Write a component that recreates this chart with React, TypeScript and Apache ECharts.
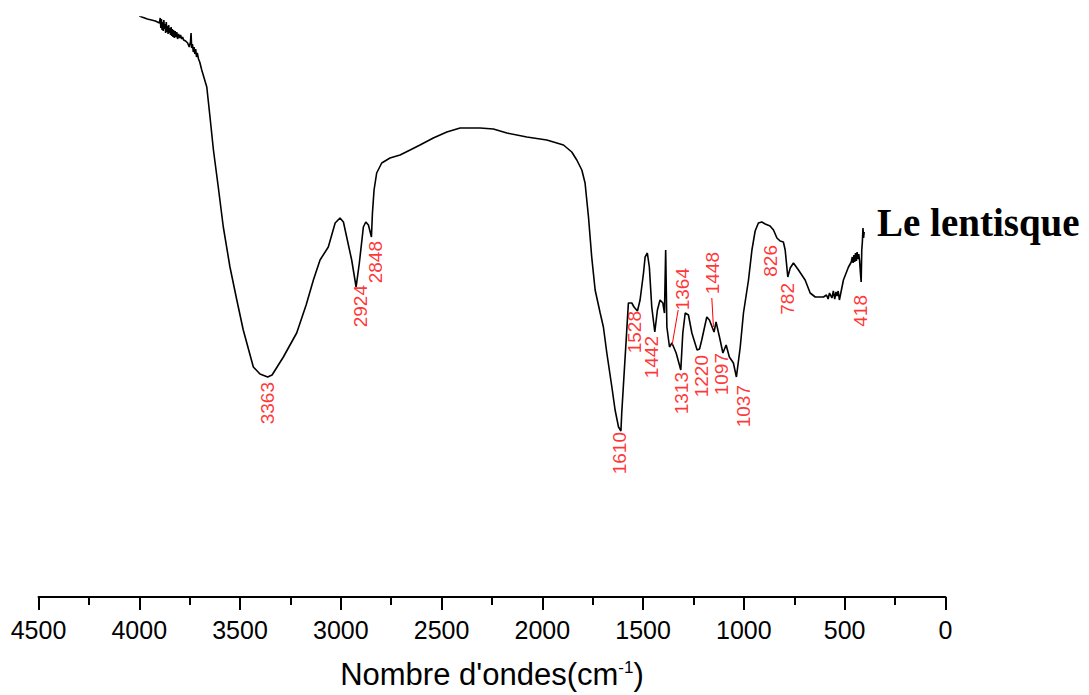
import React, { useEffect, useRef } from 'react';
import * as echarts from 'echarts';

// Spectrum (wavenumber in cm-1, transmittance in arbitrary units)
const wavenumbers = [4000, 3960, 3920, 3900, 3896, 3893, 3890, 3887, 3884, 3881, 3878, 3875, 3872, 3869, 3866, 3863, 3860, 3857, 3854, 3851, 3848, 3845, 3842, 3839, 3836, 3833, 3830, 3826, 3822, 3818, 3814, 3810, 3805, 3800, 3795, 3790, 3785, 3780, 3770, 3760, 3752, 3746, 3743, 3740, 3736, 3732, 3728, 3724, 3720, 3716, 3712, 3706, 3700, 3690, 3665, 3649, 3632, 3608, 3583, 3550, 3516, 3484, 3434, 3401, 3363, 3341, 3285, 3219, 3172, 3136, 3103, 3062, 3028, 3004, 2987, 2946, 2924, 2908, 2888, 2876, 2863, 2848, 2843, 2835, 2822, 2797, 2756, 2706, 2656, 2607, 2541, 2474, 2408, 2309, 2243, 2176, 2077, 1978, 1895, 1854, 1829, 1804, 1788, 1771, 1755, 1738, 1713, 1697, 1680, 1655, 1639, 1622, 1610, 1606, 1594, 1584, 1573, 1556, 1545, 1528, 1515, 1498, 1490, 1479, 1469, 1457, 1442, 1429, 1416, 1402, 1394, 1388, 1382, 1369, 1357, 1336, 1313, 1303, 1291, 1275, 1258, 1232, 1220, 1209, 1184, 1171, 1148, 1138, 1121, 1104, 1088, 1072, 1052, 1037, 1018, 1002, 977, 960, 944, 928, 911, 894, 870, 853, 836, 820, 804, 795, 782, 770, 754, 729, 696, 671, 646, 605, 590, 582, 575, 563, 556, 549, 543, 538, 532, 526, 506, 481, 467, 462, 458, 454, 450, 446, 442, 438, 434, 430, 426, 422, 418, 415, 412, 409, 406, 403];
const transmittance = [58.1, 57.8, 57.6, 57.4, 57.9, 56.9, 57.8, 56.7, 57.5, 56.6, 57.7, 56.8, 57.3, 56.4, 57.5, 56.5, 57.1, 56.3, 57.2, 56.4, 56.9, 56.2, 57.0, 56.1, 56.8, 56.0, 56.7, 55.9, 56.6, 56.0, 56.5, 55.8, 56.3, 55.9, 56.2, 55.8, 56.0, 55.7, 55.6, 55.4, 55.0, 55.5, 56.4, 54.9, 55.3, 54.5, 55.0, 54.3, 54.8, 54.0, 54.4, 53.8, 53.5, 52.7, 51.0, 48.0, 44.7, 41.0, 37.0, 33.0, 29.7, 26.7, 23.0, 22.3, 22.0, 22.2, 24.0, 26.4, 29.2, 31.7, 33.7, 35.0, 37.4, 37.9, 37.5, 33.7, 31.0, 33.4, 37.0, 37.5, 37.2, 36.0, 38.4, 40.7, 42.4, 43.4, 43.9, 44.2, 44.7, 45.2, 45.9, 46.5, 46.9, 46.9, 46.8, 46.4, 46.0, 45.7, 45.2, 44.5, 43.7, 42.7, 41.4, 38.0, 34.0, 30.7, 28.4, 27.0, 24.4, 21.0, 18.7, 17.0, 16.6, 18.4, 22.4, 25.7, 29.4, 29.4, 29.0, 28.6, 29.7, 32.4, 34.0, 34.4, 33.0, 29.0, 26.5, 28.7, 29.7, 29.4, 28.4, 34.7, 27.0, 25.0, 25.4, 24.4, 22.7, 26.4, 28.4, 28.2, 26.4, 24.7, 24.8, 25.7, 28.0, 27.7, 26.5, 27.5, 26.0, 24.4, 25.2, 24.0, 23.4, 22.0, 25.0, 28.4, 31.7, 34.7, 36.6, 37.4, 37.5, 37.3, 37.1, 36.7, 35.9, 35.6, 35.5, 34.7, 32.0, 32.9, 33.4, 32.7, 31.7, 30.4, 30.0, 30.0, 30.2, 29.8, 30.4, 29.9, 30.6, 29.8, 30.5, 30.1, 30.6, 29.7, 31.7, 33.0, 33.5, 34.0, 33.4, 34.2, 33.5, 34.4, 33.6, 34.5, 33.8, 34.3, 33.7, 32.5, 31.5, 34.7, 35.5, 36.9, 35.9, 36.5];

// Peak annotations (text, anchor wavenumber, anchor value = top of rotated text)
const peakLabels = ['3363', '2924', '2848', '1610', '1528', '1442', '1364', '1313', '1220', '1448', '1097', '1037', '826', '782', '418'];
const labelWavenumbers = [3363, 2904, 2830, 1619, 1544, 1460, 1306, 1308, 1212, 1155, 1113, 1004, 870, 783, 423];
const labelValues = [21.5, 31.2, 35.6, 16.5, 28.6, 26.1, 32.9, 22.5, 24.2, 34.5, 24.4, 21.2, 35.2, 31.4, 30.2];

// Leader lines for displaced labels
const leader1364 = [[1326, 28.7], [1356, 25.2]];
const leader1448 = [[1159, 29.9], [1151, 27.0]];

const xMin = 0;
const xMax = 4500;
const xInterval = 500;
const sampleName = 'Le lentisque';
const axisTitle = "{a|Nombre d'ondes(cm}{s|-1}{a|)}";

export default function App() {
  const ref = useRef<HTMLDivElement>(null);
  useEffect(() => {
    document.body.style.margin = '0';
    if (!ref.current) return;
    const chart = echarts.init(ref.current, null, { renderer: 'svg' });
    const lineData = wavenumbers.map((w, i) => [w, transmittance[i]]);
    const labelData = labelWavenumbers.map((w, i) => ({ value: [w, labelValues[i]], name: peakLabels[i] }));
    chart.setOption({
      animation: false,
      grid: { left: 38.5, right: 143.6, top: 17, bottom: 98, containLabel: false },
      xAxis: {
        type: 'value',
        inverse: true,
        min: xMin,
        max: xMax,
        interval: xInterval,
        axisLine: { onZero: false, lineStyle: { color: '#000', width: 2 } },
        axisTick: { length: 13, lineStyle: { color: '#000', width: 2 } },
        minorTick: { show: true, splitNumber: 2, length: 8, lineStyle: { color: '#000', width: 2 } },
        splitLine: { show: false },
        axisLabel: {
          color: '#000',
          fontSize: 25,
          fontFamily: 'Liberation Sans, Arial, sans-serif',
          margin: 20,
          formatter: (v: number) => String(v),
        },
        name: axisTitle,
        nameLocation: 'middle',
        nameGap: 62,
        nameTextStyle: {
          rich: {
            a: { fontSize: 31, color: '#000', fontFamily: 'Liberation Sans, Arial, sans-serif' },
            s: { fontSize: 17, color: '#000', fontFamily: 'Liberation Sans, Arial, sans-serif', verticalAlign: 'top' },
          },
        },
      },
      yAxis: { type: 'value', min: 0, max: 58, show: false },
      graphic: [
        {
          type: 'text',
          left: 877,
          top: 203,
          style: {
            text: sampleName,
            font: 'bold 39px "Liberation Serif", "Times New Roman", serif',
            fill: '#000',
          },
        },
      ],
      series: [
        {
          type: 'line',
          data: lineData,
          symbol: 'none',
          silent: true,
          lineStyle: { color: '#000', width: 1.6 },
          z: 3,
        },
        {
          type: 'scatter',
          data: labelData,
          symbolSize: 1,
          silent: true,
          itemStyle: { color: 'rgba(0,0,0,0)' },
          label: {
            show: true,
            formatter: '{b}',
            position: 'inside',
            rotate: 90,
            align: 'right',
            verticalAlign: 'middle',
            color: '#ff0000',
            fontSize: 19,
            fontFamily: 'Liberation Sans, Arial, sans-serif',
          },
          z: 4,
        },
        {
          type: 'line',
          data: leader1364,
          symbol: 'none',
          silent: true,
          lineStyle: { color: '#ff0000', width: 1 },
          z: 4,
        },
        {
          type: 'line',
          data: leader1448,
          symbol: 'none',
          silent: true,
          lineStyle: { color: '#ff0000', width: 1 },
          z: 4,
        },
      ],
    });
    return () => chart.dispose();
  }, []);
  return <div ref={ref} style={{ width: 1089, height: 695 }} />;
}
